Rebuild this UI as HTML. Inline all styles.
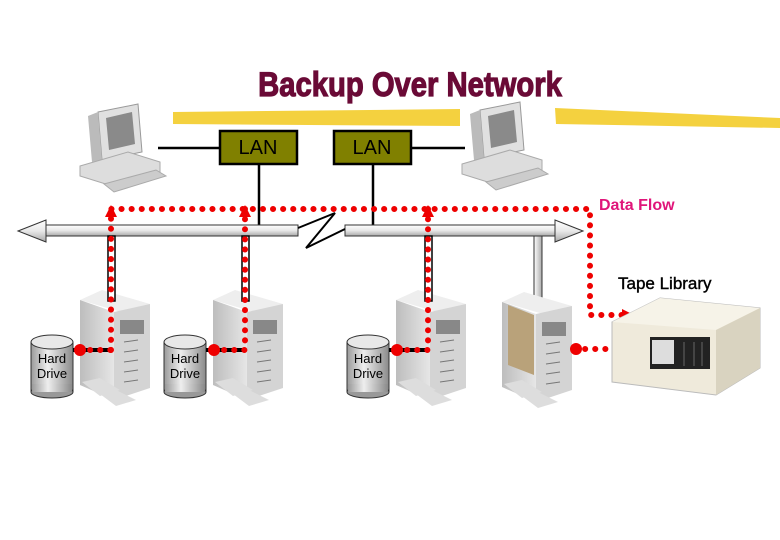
<!DOCTYPE html>
<html><head><meta charset="utf-8"><style>
html,body{margin:0;padding:0;background:#fff;width:780px;height:540px;overflow:hidden}
svg{display:block}
text{font-family:"Liberation Sans",sans-serif}
</style></head><body>
<svg width="780" height="540" viewBox="0 0 780 540" xmlns="http://www.w3.org/2000/svg">
<defs>
<linearGradient id="pipe" x1="0" y1="0" x2="0" y2="1"><stop offset="0" stop-color="#fff"/><stop offset="0.5" stop-color="#e8e8e8"/><stop offset="1" stop-color="#a8a8a8"/></linearGradient>
<linearGradient id="pipev" x1="0" y1="0" x2="1" y2="0"><stop offset="0" stop-color="#fff"/><stop offset="1" stop-color="#aaa"/></linearGradient>
<linearGradient id="cyl" x1="0" y1="0" x2="1" y2="0"><stop offset="0" stop-color="#9a9a9a"/><stop offset="0.4" stop-color="#eee"/><stop offset="1" stop-color="#8a8a8a"/></linearGradient>
<linearGradient id="srv" x1="0" y1="0" x2="1" y2="0"><stop offset="0" stop-color="#bdbdbd"/><stop offset="1" stop-color="#e6e6e6"/></linearGradient>
<g id="pc">
<polygon points="18,8 58,0 62,48 22,56" fill="#e0e0e0" stroke="#999"/>
<polygon points="26,14 52,8 55,40 29,46" fill="#8a8a8a"/>
<polygon points="8,12 18,8 22,56 12,58" fill="#bbb"/>
<polygon points="0,62 48,48 80,58 80,68 32,82 0,72" fill="#ddd" stroke="#aaa"/>
<polygon points="24,80 76,66 86,72 34,88" fill="#ccc" stroke="#aaa"/>
</g>
<g id="server">
<polygon points="0,10 22,0 70,14 48,24" fill="#eee"/>
<polygon points="0,10 34,22 34,110 0,95" fill="url(#srv)"/>
<polygon points="34,22 70,14 70,98 34,110" fill="#d4d4d4"/>
<rect x="40" y="30" width="24" height="14" fill="#888"/>
<g stroke="#777"><line x1="44" y1="52" x2="58" y2="50"/><line x1="44" y1="62" x2="58" y2="60"/><line x1="44" y1="72" x2="58" y2="70"/><line x1="44" y1="82" x2="58" y2="80"/><line x1="44" y1="92" x2="58" y2="90"/></g>
<polygon points="2,92 20,88 40,100 20,106" fill="#ddd"/>
<polygon points="20,104 36,100 56,110 36,116" fill="#ddd"/>
</g>
<g id="drive">
<rect x="0" y="8" width="42" height="50" fill="url(#cyl)" stroke="#333"/>
<ellipse cx="21" cy="58" rx="21" ry="6" fill="#999" stroke="#333"/>
<rect x="1" y="50" width="40" height="8" fill="url(#cyl)"/>
<ellipse cx="21" cy="8" rx="21" ry="7" fill="#e8e8e8" stroke="#333"/>
</g>
</defs>

<!-- yellow highlights -->
<path d="M173,112 L460,109 L460,126 L173,124 Z" fill="#f3cc2a" opacity="0.9"/>
<path d="M555,108 L780,118 L780,128 L556,124 Z" fill="#f3cc2a" opacity="0.9"/>

<text x="410" y="96" text-anchor="middle" font-size="34" font-weight="bold" fill="#6a0a36" transform="translate(410,0) scale(0.86,1) translate(-410,0)" stroke="#6a0a36" stroke-width="1.2">Backup Over Network</text>

<use href="#pc" x="80" y="104"/>
<use href="#pc" x="462" y="102"/>

<line x1="158" y1="148" x2="219" y2="148" stroke="#000" stroke-width="2.5"/>
<line x1="412" y1="148" x2="465" y2="148" stroke="#000" stroke-width="2.5"/>
<rect x="220" y="131" width="77" height="33" fill="#808000" stroke="#000" stroke-width="2.5"/>
<rect x="334" y="131" width="77" height="33" fill="#808000" stroke="#000" stroke-width="2.5"/>
<text x="258" y="154" text-anchor="middle" font-size="20" fill="#000">LAN</text>
<text x="372" y="154" text-anchor="middle" font-size="20" fill="#000">LAN</text>
<line x1="259" y1="164" x2="259" y2="226" stroke="#000" stroke-width="2.5"/>
<line x1="373" y1="164" x2="373" y2="226" stroke="#000" stroke-width="2.5"/>

<!-- bus -->
<rect x="45" y="225" width="253" height="11" fill="url(#pipe)" stroke="#333"/>
<polygon points="18,231 46,220 46,242" fill="url(#pipe)" stroke="#333"/>
<rect x="345" y="225" width="210" height="11" fill="url(#pipe)" stroke="#333"/>
<polygon points="583,231 555,220 555,242" fill="url(#pipe)" stroke="#333"/>
<polyline points="298,228 335,213 306,248 345,229" fill="none" stroke="#000" stroke-width="2"/>
<rect x="534" y="236" width="8" height="67" fill="url(#pipev)" stroke="#333"/>

<!-- servers and drives -->
<use href="#server" x="80" y="290"/>
<use href="#server" x="213" y="290"/>
<use href="#server" x="396" y="290"/>
<use href="#server" x="502" y="292"/>
<polygon points="508,305 534,315 534,375 508,365" fill="#b9a27a"/>
<use href="#drive" x="31" y="334"/>
<use href="#drive" x="164" y="334"/>
<use href="#drive" x="347" y="334"/>
<text x="52" y="363" text-anchor="middle" font-size="13">Hard</text>
<text x="52" y="378" text-anchor="middle" font-size="13">Drive</text>
<text x="185" y="363" text-anchor="middle" font-size="13">Hard</text>
<text x="185" y="378" text-anchor="middle" font-size="13">Drive</text>
<text x="368" y="363" text-anchor="middle" font-size="13">Hard</text>
<text x="368" y="378" text-anchor="middle" font-size="13">Drive</text>

<!-- drive-server black lines -->
<g stroke="#000" stroke-width="4"><line x1="73" y1="350" x2="110" y2="350"/><line x1="206" y1="350" x2="244" y2="350"/><line x1="389" y1="350" x2="427" y2="350"/></g>

<!-- white dashed verticals -->
<g fill="#fff" stroke="#000" stroke-width="1.5">
<rect x="108" y="236" width="7" height="65"/><rect x="242" y="236" width="7" height="65"/><rect x="425" y="236" width="7" height="65"/>
</g>

<!-- red dotted paths -->
<g fill="none" stroke="#e00" stroke-width="6" stroke-linecap="round" stroke-dasharray="0.1 10">
<polyline points="111,350 111,218 111,209 590,209 590,315 625,315"/>
<line x1="245" y1="209" x2="245" y2="350"/>
<line x1="428" y1="209" x2="428" y2="350"/>
<line x1="80" y1="350" x2="111" y2="350"/>
<line x1="214" y1="350" x2="245" y2="350"/>
<line x1="397" y1="350" x2="428" y2="350"/>
<line x1="575" y1="349" x2="630" y2="349"/>
</g>
<g fill="#e00">
<circle cx="80" cy="350" r="6"/><circle cx="214" cy="350" r="6"/><circle cx="397" cy="350" r="6"/><circle cx="576" cy="349" r="6"/>
<polygon points="111,205 105,217 117,217"/><polygon points="245,205 239,217 251,217"/><polygon points="428,205 422,217 434,217"/>
<polygon points="634,315 622,309 622,321"/><polygon points="640,349 628,343 628,355"/>
</g>

<!-- tape library -->
<polygon points="612,322 660,298 760,308 760,368 716,395 612,382" fill="#efeadb" stroke="#bbb"/>
<polygon points="612,322 660,298 760,308 716,330" fill="#f6f3e8"/>
<polygon points="716,330 760,308 760,368 716,395" fill="#d9d3c0"/>
<rect x="650" y="337" width="60" height="32" fill="#222"/>
<rect x="652" y="340" width="22" height="24" fill="#ddd"/>
<g stroke="#666"><line x1="684" y1="342" x2="684" y2="366"/><line x1="694" y1="342" x2="694" y2="366"/><line x1="702" y1="342" x2="702" y2="366"/></g>

<text x="599" y="210" font-size="16" font-weight="bold" fill="#e0157a">Data Flow</text>
<text x="618" y="289" font-size="17" fill="#000" stroke="#000" stroke-width="0.4">Tape Library</text>
</svg>
</body></html>
